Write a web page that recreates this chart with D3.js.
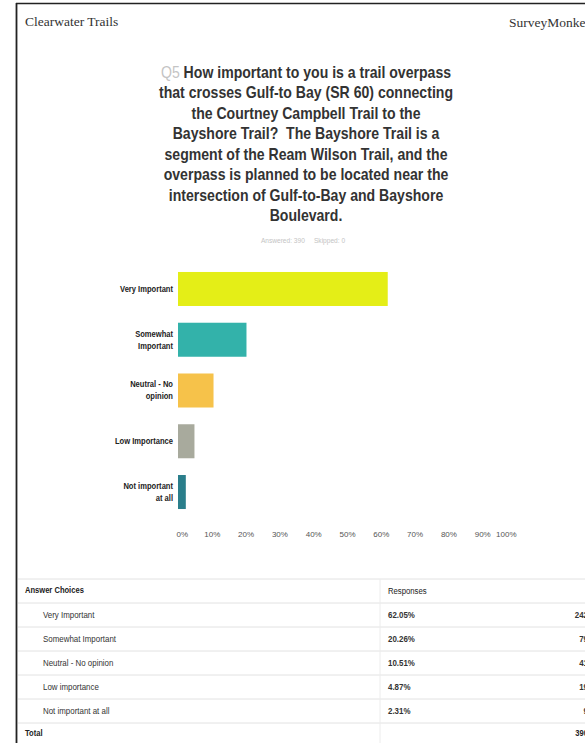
<!DOCTYPE html>
<html><head><meta charset="utf-8">
<script src="https://cdn.jsdelivr.net/npm/d3@7"></script>
<style>
html,body{margin:0;padding:0;background:#fff;overflow:hidden}
svg{display:block}
</style></head>
<body>
<script>
// ---- data ----
const categories = ["Very Important","Somewhat Important","Neutral - No opinion","Low importance","Not important at all"];
const chartLabels = [["Very Important"],["Somewhat","Important"],["Neutral - No","opinion"],["Low Importance"],["Not important","at all"]];
const percents = [62.05, 20.26, 10.51, 4.87, 2.31];
const counts = [242, 79, 41, 19, 9];
const total = 390;
const tickValues = [0,10,20,30,40,50,60,70,80,90,100];
const colors = ["#e4ee17","#33b2aa","#f6c24a","#a8aa9d","#2a7e8b"];
const titleLines = ["How important to you is a trail overpass","that crosses Gulf-to Bay (SR 60) connecting","the Courtney Campbell Trail to the","Bayshore Trail?  The Bayshore Trail is a","segment of the Ream Wilson Trail, and the","overpass is planned to be located near the","intersection of Gulf-to-Bay and Bayshore","Boulevard."];

const W = 585, H = 743;
const svg = d3.select("body").append("svg").attr("width", W).attr("height", H);
const SX = 0.88; // scanned document looks horizontally condensed
function squeeze(sel){
  sel.each(function(){
    const t = d3.select(this);
    const x = +t.attr("x") || 0;
    t.attr("transform", `translate(${x},0) scale(${SX},1) translate(${-x},0)`);
  });
  return sel;
}

// page border
svg.append("line").attr("x1",16.5).attr("x2",16.5).attr("y1",3).attr("y2",H).attr("stroke","#222").attr("stroke-width",1.8);
svg.append("line").attr("x1",16).attr("x2",W).attr("y1",3.5).attr("y2",3.5).attr("stroke","#222").attr("stroke-width",1.4);

// header
svg.append("text").attr("x",25).attr("y",26).text("Clearwater Trails")
  .attr("font-family","Liberation Serif, Times New Roman, serif").attr("font-size",13.5).attr("fill","#333");
svg.append("text").attr("x",509).attr("y",27).text("SurveyMonkey")
  .attr("font-family","Liberation Serif, Times New Roman, serif").attr("font-size",13.5).attr("fill","#333");

// title
const cx = 306;
const tg = svg.append("g").attr("font-family","Liberation Sans, Arial, sans-serif").attr("font-weight","bold").attr("font-size",16).attr("fill","#333");
titleLines.forEach((line,i)=>{
  const t = tg.append("text").attr("x",cx).attr("y",78 + i*20.5).attr("text-anchor","middle").attr("xml:space","preserve");
  if(i===0){ t.append("tspan").attr("fill","#c4c4c4").attr("font-weight","normal").text("Q5 "); }
  t.append("tspan").text(line);
  squeeze(t);
});
squeeze(svg.append("text").attr("x",303).attr("y",243).attr("text-anchor","middle")
  .attr("font-family","Liberation Sans, Arial, sans-serif").attr("font-size",7.5).attr("fill","#c4c4c4")
  .attr("xml:space","preserve").text("Answered: 390     Skipped: 0"));

// chart
const x = d3.scaleLinear().domain([0,100]).range([178,516]);
const y = d3.scaleBand().domain(categories).range([263.6,517.4]).paddingInner(0.33).paddingOuter(0.165);

svg.append("g").selectAll("rect").data(categories).join("rect")
  .attr("x", x(0)).attr("y", d=>y(d))
  .attr("width", (d,i)=>x(percents[i])-x(0)).attr("height", y.bandwidth())
  .attr("fill",(d,i)=>colors[i]);

const lg = svg.append("g").attr("font-family","Liberation Sans, Arial, sans-serif").attr("font-weight","bold").attr("font-size",8.6).attr("fill","#222");
categories.forEach((c,i)=>{
  const lines = chartLabels[i];
  const yc = y(c) + y.bandwidth()/2;
  lines.forEach((l,j)=>{
    squeeze(lg.append("text").attr("x",173).attr("y", yc + 3 + (j-(lines.length-1)/2)*12).attr("text-anchor","end").text(l));
  });
});

const axis = d3.axisBottom(x).tickValues(tickValues).tickFormat(d=>d+"%").tickSize(0).tickPadding(0);
const ag = svg.append("g").attr("transform","translate(0,531)").call(axis);
ag.select(".domain").remove();
ag.selectAll("text").attr("font-family","Liberation Sans, Arial, sans-serif").attr("font-size",8).attr("fill","#555")
  .attr("text-anchor",(d,i)=> i===0 ? "start" : (i===tickValues.length-1 ? "end" : "middle"))
  .attr("dx",(d,i)=> i===0 ? -2 : 0);

// table
const rowY = d3.scaleBand().domain(d3.range(categories.length)).range([603,723]);
const sepYs = [579,603].concat(categories.map((c,i)=>rowY(i)+rowY.bandwidth()));
svg.append("g").selectAll("line").data(sepYs).join("line")
  .attr("x1",18).attr("x2",W).attr("y1",d=>d).attr("y2",d=>d)
  .attr("stroke","#e2e2e2").attr("stroke-width",1);
svg.append("line").attr("x1",380).attr("x2",380).attr("y1",579).attr("y2",H).attr("stroke","#ececec");

const tf = "Liberation Sans, Arial, sans-serif";
squeeze(svg.append("text").attr("x",25).attr("y",593).text("Answer Choices").attr("font-family",tf).attr("font-weight","bold").attr("font-size",8.6).attr("fill","#222"));
squeeze(svg.append("text").attr("x",388).attr("y",594).text("Responses").attr("font-family",tf).attr("font-size",8.8).attr("fill","#222"));
const rows = svg.append("g").attr("font-family",tf).attr("font-size",9).attr("fill","#333");
categories.forEach((c,i)=>{
  const yb = rowY(i) + rowY.bandwidth()/2 + 3;
  squeeze(rows.append("text").attr("x",43).attr("y",yb).text(c));
  squeeze(rows.append("text").attr("x",388).attr("y",yb).attr("font-weight","bold").text(percents[i].toFixed(2)+"%"));
  squeeze(rows.append("text").attr("x",588).attr("y",yb).attr("text-anchor","end").attr("font-weight","bold").text(counts[i]));
});
squeeze(svg.append("text").attr("x",25).attr("y",736).text("Total").attr("font-family",tf).attr("font-weight","bold").attr("font-size",8.6).attr("fill","#222"));
squeeze(svg.append("text").attr("x",588).attr("y",736).attr("text-anchor","end").text(total).attr("font-family",tf).attr("font-weight","bold").attr("font-size",8.6).attr("fill","#222"));
</script>
</body></html>
